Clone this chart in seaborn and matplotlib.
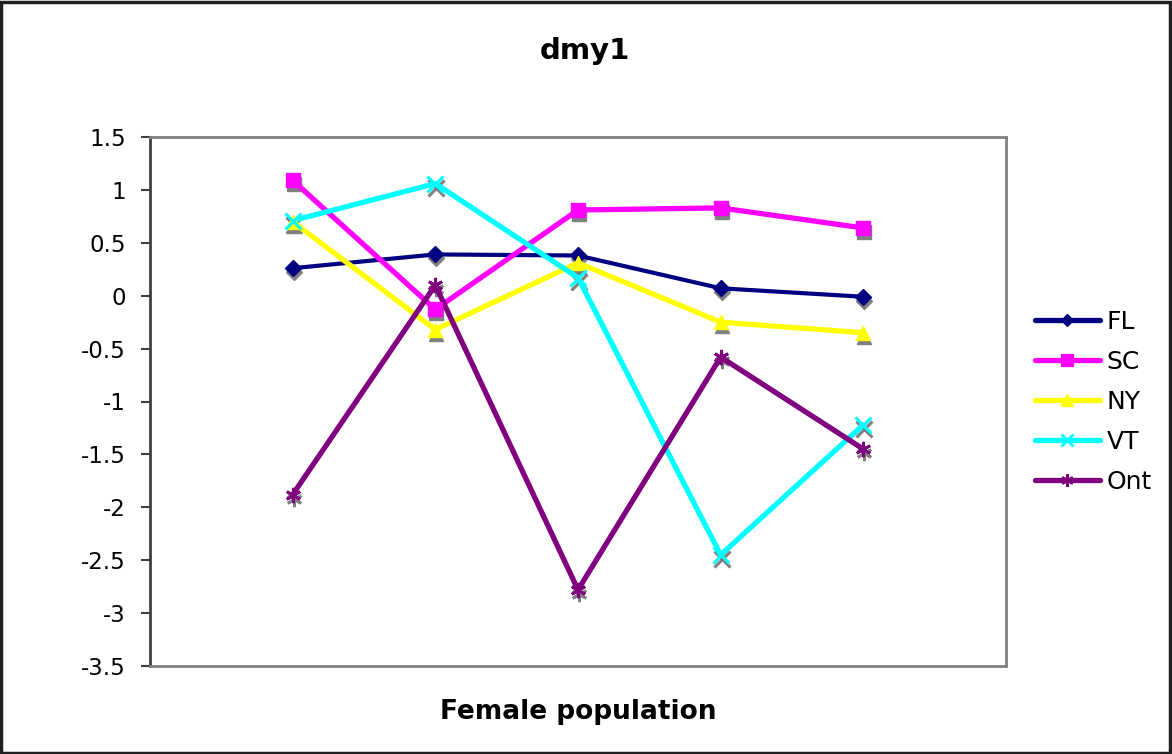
import numpy as np
import pandas as pd
import seaborn as sns
import matplotlib
matplotlib.use("Agg")
import matplotlib.pyplot as plt
from matplotlib.transforms import offset_copy
from matplotlib.patches import Rectangle
from matplotlib.lines import Line2D

# Expression values per population group (five female population samples)
samples = [1, 2, 3, 4, 5]
fl = [0.26, 0.39, 0.38, 0.07, -0.01]
sc = [1.09, -0.13, 0.81, 0.83, 0.64]
ny = [0.70, -0.32, 0.31, -0.25, -0.35]
vt = [0.71, 1.06, 0.17, -2.45, -1.22]
ont = [-1.88, 0.10, -2.78, -0.58, -1.45]

series_names = ["FL", "SC", "NY", "VT", "Ont"]
series_values = [fl, sc, ny, vt, ont]
colors = ["#000080", "#FF00FF", "#FFFF00", "#00FFFF", "#800080"]
markers = ["D", "s", "^", "x", (6, 2, 0)]
marker_sizes = [8, 10, 10, 11, 11]
edge_widths = [1, 1, 1, 2.2, 2.0]
y_ticks = [1.5, 1, 0.5, 0, -0.5, -1, -1.5, -2, -2.5, -3, -3.5]

df = pd.DataFrame({
    "sample": np.tile(samples, len(series_names)),
    "value": np.concatenate(series_values),
    "series": np.repeat(series_names, len(samples)),
})

sns.set_theme(style="white")
plt.rcParams["font.family"] = ["DejaVu Sans"]
plt.rcParams["text.color"] = "black"
plt.rcParams["axes.labelcolor"] = "black"
plt.rcParams["ytick.color"] = "black"

fig = plt.figure(figsize=(11.72, 7.54), dpi=100)
ax = fig.add_axes([150 / 1172, 1 - 666 / 754, 856 / 1172, 529 / 754])

# grey drop-shadow markers, shifted a few pixels down
shadow = offset_copy(ax.transData, fig=fig, x=1, y=-4, units="dots")
for vals, mk, ms, ew in zip(series_values, markers, marker_sizes, edge_widths):
    ax.plot(samples, vals, linestyle="none", marker=mk, markersize=ms,
            color="#808080", markeredgecolor="#808080", markeredgewidth=ew,
            transform=shadow, zorder=1)

sns.lineplot(data=df, x="sample", y="value", hue="series", hue_order=series_names,
             palette=colors, ax=ax, linewidth=3.8, legend=False, zorder=2)

for vals, col, mk, ms, ew in zip(series_values, colors, markers, marker_sizes, edge_widths):
    ax.plot(samples, vals, linestyle="none", marker=mk, markersize=ms,
            color=col, markeredgecolor=col, markeredgewidth=ew, zorder=3)

# thinner navy line for FL
ax.get_lines()[len(series_names)].set_linewidth(3.0)

ax.set_xlim(0, 6)
ax.set_ylim(-3.5, 1.5)
ax.set_yticks(y_ticks)
ax.set_yticklabels([f"{t:g}" for t in y_ticks])
ax.set_xticks([])
ax.set_xlabel("Female population", fontsize=19, fontweight="bold", labelpad=24)
ax.set_ylabel("")
ax.tick_params(axis="y", which="both", left=True, direction="out", length=6.5,
               width=1.5, color="#404040", labelsize=16.5, pad=11, labelcolor="black")

for side in ["top", "right", "bottom"]:
    ax.spines[side].set_color("#808080")
    ax.spines[side].set_linewidth(2)
ax.spines["left"].set_color("#404040")
ax.spines["left"].set_linewidth(2)

fig.text(585 / 1172, 1 - 51 / 754, "dmy1", ha="center", va="center",
         fontsize=21, fontweight="bold")

# legend built from the drawn series
handles = []
for col, mk, ms, ew in zip(colors, markers, marker_sizes, edge_widths):
    handles.append(Line2D([], [], color=col, linewidth=3.8, marker=mk,
                          markersize=ms * 0.8, markeredgecolor=col,
                          markeredgewidth=ew * 0.9))
fig.legend(handles, series_names, loc="center left",
           bbox_to_anchor=(1012 / 1172, 1 - 402 / 754), frameon=False,
           fontsize=18, handlelength=2.6, handletextpad=0.28, labelspacing=0.64)

# outer chart border
fig.patches.append(Rectangle((0.001, 0.001), 0.997, 0.996, transform=fig.transFigure,
                             fill=False, edgecolor="#202020", linewidth=2.5))

fig.savefig("out.png", dpi=100)
